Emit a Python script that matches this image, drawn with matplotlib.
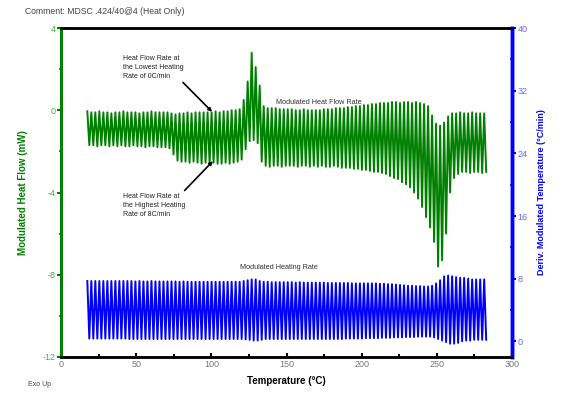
import numpy as np
import matplotlib
matplotlib.use('Agg')
import matplotlib.pyplot as plt

plt.rcParams['font.family'] = ['Liberation Sans', 'DejaVu Sans']
plt.rcParams['axes.unicode_minus'] = False

# MDSC settings from the comment: amplitude .424 C, period 40 s, 4 C/min
rate = 4.0
period_s = 40.0
t_start = 17.5
period_c = rate * period_s / 60.0   # temperature per cycle

# heat flow (mW), one max and one min per modulation cycle
hf_upper = [
    -0.05, -0.1, -0.1, -0.05, -0.1, -0.1, -0.15, -0.1, -0.1, -0.05,
    -0.1, -0.1, -0.1, -0.15, -0.1, -0.1, -0.05, -0.1, -0.1, -0.1,
    -0.1, -0.15, -0.2, -0.15, -0.15, -0.1, -0.15, -0.1, -0.1, -0.1,
    -0.1, -0.1, -0.05, -0.1, -0.05, -0.05, 0.0, 0.0, 0.05, 0.5,
    1.4, 2.8, 2.1, 1.2, 0.2, 0.1, 0.1, 0.1, 0.05, 0.05,
    0.05, 0.05, 0.0, 0.0, 0.05, 0.0, 0.0, 0.0, 0.0, 0.05,
    0.05, 0.05, 0.1, 0.1, 0.1, 0.15, 0.15, 0.2, 0.2, 0.25,
    0.25, 0.3, 0.3, 0.35, 0.35, 0.35, 0.4, 0.4, 0.35, 0.4,
    0.4, 0.35, 0.4, 0.35, 0.3, 0.2, -0.25, -0.65, -0.75, -0.6,
    -0.3, -0.15, -0.15, -0.1, -0.15, -0.15, -0.1, -0.15, -0.15, -0.15,
]
hf_lower = [
    -1.7, -1.7, -1.75, -1.7, -1.7, -1.75, -1.7, -1.75, -1.7, -1.75,
    -1.75, -1.7, -1.75, -1.75, -1.8, -1.75, -1.75, -1.8, -1.8, -1.8,
    -1.85, -2.15, -2.45, -2.5, -2.5, -2.55, -2.5, -2.55, -2.6, -2.55,
    -2.6, -2.55, -2.6, -2.6, -2.55, -2.6, -2.55, -2.5, -2.4, -1.9,
    -1.5, -1.45, -1.6, -2.5, -2.7, -2.75, -2.7, -2.7, -2.75, -2.7,
    -2.7, -2.7, -2.75, -2.7, -2.7, -2.75, -2.7, -2.75, -2.7, -2.75,
    -2.75, -2.7, -2.75, -2.8, -2.8, -2.8, -2.85, -2.85, -2.9, -2.9,
    -2.95, -3.0, -3.0, -3.05, -3.1, -3.2, -3.3, -3.35, -3.5, -3.6,
    -3.75, -4.0, -4.3, -4.7, -5.2, -5.7, -6.4, -7.6, -7.3, -6.0,
    -4.0, -3.3, -3.1, -3.0, -3.0, -3.05, -3.0, -3.0, -3.05, -3.0,
]

# deriv. modulated temperature (C/min)
hr_upper = [
    7.7, 7.7, 7.7, 7.7, 7.7, 7.7, 7.7, 7.7, 7.7, 7.7,
    7.7, 7.7, 7.65, 7.7, 7.65, 7.65, 7.7, 7.65, 7.65, 7.65,
    7.65, 7.65, 7.65, 7.6, 7.65, 7.6, 7.6, 7.6, 7.6, 7.6,
    7.6, 7.6, 7.6, 7.6, 7.6, 7.6, 7.6, 7.6, 7.6, 7.7,
    7.8, 7.9, 7.9, 7.7, 7.6, 7.6, 7.55, 7.55, 7.55, 7.55,
    7.55, 7.55, 7.5, 7.55, 7.5, 7.5, 7.5, 7.5, 7.5, 7.5,
    7.45, 7.45, 7.45, 7.45, 7.45, 7.45, 7.4, 7.4, 7.4, 7.4,
    7.4, 7.4, 7.4, 7.35, 7.35, 7.3, 7.3, 7.25, 7.2, 7.15,
    7.1, 7.1, 7.05, 7.05, 7.0, 7.0, 7.1, 7.4, 7.8, 8.3,
    8.4, 8.3, 8.2, 8.1, 8.1, 8.0, 7.9, 7.9, 7.9, 7.9,
]
hr_lower = [
    0.35, 0.35, 0.35, 0.35, 0.35, 0.35, 0.35, 0.35, 0.35, 0.35,
    0.3, 0.3, 0.3, 0.3, 0.3, 0.3, 0.3, 0.3, 0.3, 0.3,
    0.3, 0.3, 0.3, 0.3, 0.3, 0.3, 0.3, 0.3, 0.3, 0.3,
    0.3, 0.3, 0.3, 0.3, 0.3, 0.3, 0.3, 0.3, 0.3, 0.25,
    0.2, 0.1, 0.1, 0.2, 0.3, 0.3, 0.3, 0.3, 0.3, 0.3,
    0.3, 0.3, 0.3, 0.3, 0.3, 0.3, 0.3, 0.3, 0.3, 0.3,
    0.3, 0.3, 0.3, 0.3, 0.35, 0.35, 0.35, 0.35, 0.35, 0.4,
    0.4, 0.4, 0.4, 0.45, 0.45, 0.45, 0.5, 0.5, 0.5, 0.55,
    0.55, 0.55, 0.6, 0.6, 0.6, 0.6, 0.5, 0.3, 0.1, -0.1,
    -0.3, -0.3, -0.2, 0.0, 0.1, 0.1, 0.2, 0.2, 0.2, 0.2,
]

x_ticks = [0, 50, 100, 150, 200, 250, 300]
hf_ticks = [4, 0, -4, -8, -12]
hr_ticks = [0, 8, 16, 24, 32, 40]

green = '#008000'
blue = '#0000ff'

t = t_start + period_c * np.arange(len(hf_upper))
x_zig = np.column_stack([t, t + period_c / 2]).ravel()
hf = np.column_stack([hf_upper, hf_lower]).ravel()
hr = np.column_stack([hr_upper, hr_lower]).ravel()

fig = plt.figure(figsize=(5.63, 3.97), dpi=100)
ax = fig.add_axes([61/563, 1 - 357/397, 451/563, 329/397])
ax2 = ax.twinx()

ax.plot(x_zig, hf, color=green, lw=1.4)
ax2.plot(x_zig, hr, color=blue, lw=1.4)

ax.set_xlim(0, 300)
ax.set_ylim(-12, 4)
ax2.set_ylim(-2, 40)

ax.set_xticks(x_ticks)
ax.set_xticks(range(25, 300, 50), minor=True)
ax.set_yticks(hf_ticks)
ax.set_yticks(range(-10, 4, 4), minor=True)
ax2.set_yticks(hr_ticks)
ax2.set_yticks(range(4, 40, 8), minor=True)

ax.tick_params(axis='x', which='both', direction='in', top=False, length=3,
               width=1.5, labelsize=6.5, labelcolor='#777777', pad=2)
ax.tick_params(axis='x', which='minor', length=2)
ax.tick_params(axis='y', which='major', direction='out', length=3, width=1.5,
               color=green, labelsize=6.5, labelcolor='#44aa44', pad=1)
ax.tick_params(axis='y', which='minor', direction='inout', length=3, width=1.2,
               color=green)
ax2.tick_params(axis='y', which='major', direction='out', length=3, width=1.5,
                color=blue, labelsize=6.5, labelcolor='#6666ee', pad=1)
ax2.tick_params(axis='y', which='minor', direction='inout', length=3, width=1.2,
                color=blue)

for a in (ax, ax2):
    a.spines['top'].set_linewidth(1.8)
    a.spines['bottom'].set_linewidth(1.8)
    a.spines['left'].set_color(green)
    a.spines['left'].set_linewidth(2)
    a.spines['right'].set_color(blue)
    a.spines['right'].set_linewidth(2.5)

ax.set_xlabel('Temperature (°C)', fontsize=7, fontweight='bold', labelpad=5)
ax.set_ylabel('Modulated Heat Flow (mW)', fontsize=7, fontweight='bold',
              color=green)
ax2.set_ylabel('Deriv. Modulated Temperature (°C/min)', fontsize=6.5,
               fontweight='bold', color=blue, labelpad=7)
ax.yaxis.set_label_coords(-33/451, 0.5)

fig.text(25/563, 1 - 12/397, 'Comment: MDSC .424/40@4 (Heat Only)',
         fontsize=6.2, color='#444444', va='center')
fig.text(28/563, 1 - 384/397, 'Exo Up', fontsize=5, color='#444444', va='center')

ax2.text(143, 30.5, 'Modulated Heat Flow Rate', fontsize=5.2, color='#333333',
         va='center')
ax2.text(119, 9.4, 'Modulated Heating Rate', fontsize=5.2, color='#333333',
         va='center')

ax2.annotate('Heat Flow Rate at\nthe Lowest Heating\nRate of 0C/min',
             xy=(100.5, 29.3), xytext=(41, 35.0), fontsize=5, color='#222222',
             va='center', linespacing=1.4,
             arrowprops=dict(arrowstyle='-|>', color='black', lw=1.2,
                             shrinkA=0, shrinkB=0, relpos=(0.95, 0.0)))
ax2.annotate('Heat Flow Rate at\nthe Highest Heating\nRate of 8C/min',
             xy=(101, 23.0), xytext=(41, 17.3), fontsize=5, color='#222222',
             va='center', linespacing=1.4,
             arrowprops=dict(arrowstyle='-|>', color='black', lw=1.2,
                             shrinkA=0, shrinkB=0, relpos=(0.95, 1.0)))

plt.savefig('out.png', dpi=100)
